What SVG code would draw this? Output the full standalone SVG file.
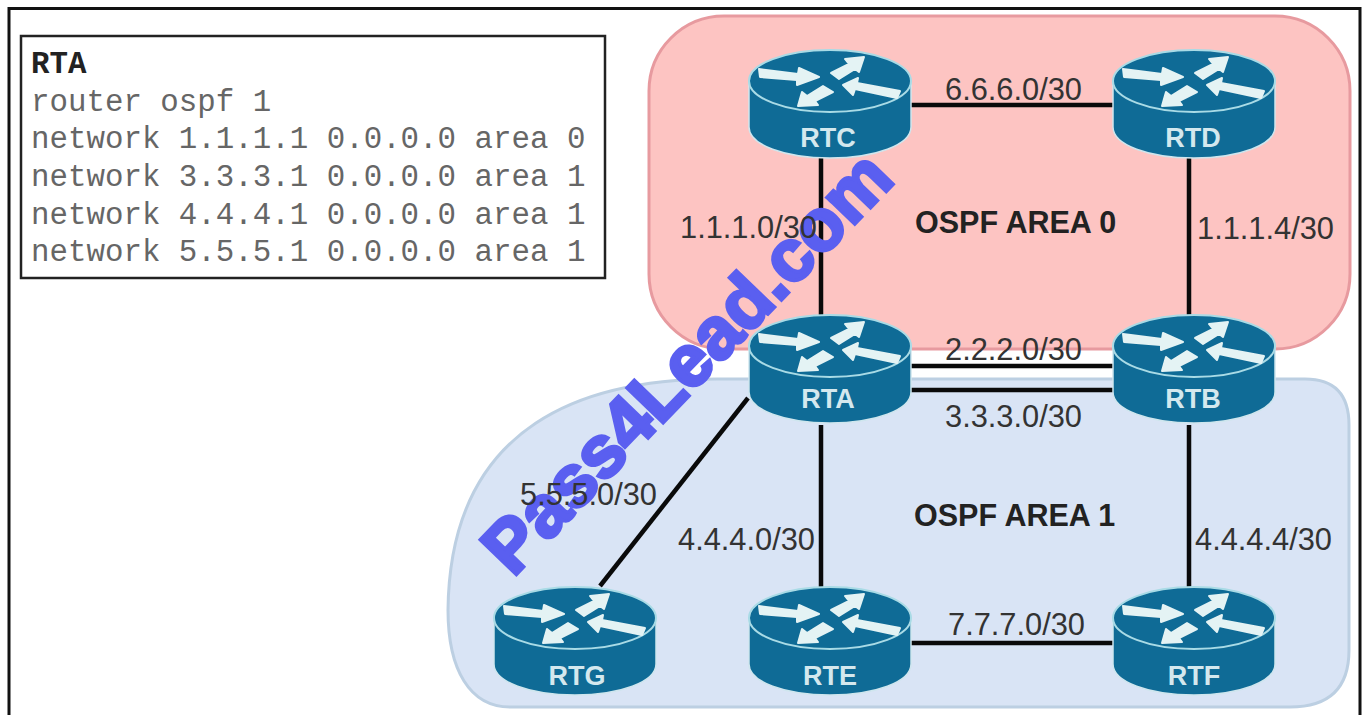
<svg xmlns="http://www.w3.org/2000/svg" width="1365" height="715" viewBox="0 0 1365 715">
<style>
.lbl{font-family:"Liberation Sans",Arial,sans-serif;font-size:30.8px;fill:#333}
.area{font-family:"Liberation Sans",Arial,sans-serif;font-size:30.5px;font-weight:bold;fill:#222}
.rname{font-family:"Liberation Sans",Arial,sans-serif;font-size:27px;font-weight:bold;fill:#d4e8ee;text-anchor:middle}
.mono{font-family:"Liberation Mono","Courier New",monospace;font-size:30.8px;fill:#666}
.link{stroke:#0a0a0a;stroke-width:4.5;fill:none}
</style>
<defs>
<g id="router">
<path d="M-81 0V46C-81 64-45 77 0 77S81 64 81 46V0Z" fill="#0f6b96" stroke="#cfe6ee" stroke-width="1.5"/>
<ellipse cx="0" cy="0" rx="81" ry="31" fill="#0f6b96" stroke="#a9dbe6" stroke-width="2"/>
<g fill="#e4f3f4" stroke="#e4f3f4" stroke-width="2" stroke-linejoin="round">
<path d="M-71-12L-32-7-31-13-11-4-33 4-33-1-70-4Z"/>
<path d="M1-8L19-17 15-22 34-24 29-9 25-12 9-2Z"/>
<path d="M13 4L28-3 27 2 70 10 67 17 25 8 23 14Z"/>
<path d="M-32 25L-28 11-23 15-7 5 3 11-15 20-12 24Z"/>
</g>
</g>
</defs>
<rect width="1365" height="715" fill="#fff"/>
<path d="M9 715V8.500H1360V715" fill="none" stroke="#111" stroke-width="3"/>
<g id="areas">
<rect x="649" y="16" width="701" height="333" rx="75" ry="75" fill="#fdc4c2" stroke="#e79a9f" stroke-width="3"/>
<path d="M717 379H1305Q1349 379 1349 425V650Q1349 707 1290 707H510C470 707 448 670 448 610C450 420 590 379 717 379Z" fill="#d9e4f5" stroke="#bccfe2" stroke-width="3"/>
</g>
<g id="connectors">
<line class="link" x1="911" y1="105" x2="1113" y2="105"/>
<line class="link" x1="821" y1="158" x2="821" y2="316"/>
<line class="link" x1="1189" y1="158" x2="1189" y2="320"/>
<line class="link" x1="911" y1="366" x2="1113" y2="366"/>
<line class="link" x1="911" y1="390" x2="1113" y2="390"/>
<line class="link" x1="748" y1="398" x2="600" y2="586"/>
<line class="link" x1="821" y1="425" x2="821" y2="587"/>
<line class="link" x1="1189" y1="425" x2="1189" y2="587"/>
<line class="link" x1="911" y1="643" x2="1113" y2="643"/>
</g>
<text id="watermark" transform="translate(513 578) rotate(-46)" font-family="'Liberation Sans',Arial,sans-serif" font-size="73" font-weight="bold" fill="#5a5ff0" stroke="#5a5ff0" stroke-width="3.500">Pass4Lead.com</text>
<g id="config">
<rect x="21" y="36" width="584" height="242" fill="#fff" stroke="#222" stroke-width="2.5"/>
<text class="mono" x="31" y="73" font-weight="bold" style="fill:#222">RTA</text>
<text class="mono" x="31" y="111">router ospf 1</text>
<text class="mono" x="31" y="148">network 1.1.1.1 0.0.0.0 area 0</text>
<text class="mono" x="31" y="186">network 3.3.3.1 0.0.0.0 area 1</text>
<text class="mono" x="31" y="224">network 4.4.4.1 0.0.0.0 area 1</text>
<text class="mono" x="31" y="261">network 5.5.5.1 0.0.0.0 area 1</text>
</g>
<g id="RTC"><use href="#router" x="830" y="81"/><text class="rname" x="828" y="147">RTC</text></g>
<g id="RTD"><use href="#router" x="1194" y="81"/><text class="rname" x="1193" y="147">RTD</text></g>
<g id="RTA"><use href="#router" x="830" y="346"/><text class="rname" x="828" y="408">RTA</text></g>
<g id="RTB"><use href="#router" x="1194" y="346"/><text class="rname" x="1193" y="408">RTB</text></g>
<g id="RTG"><use href="#router" x="575" y="618"/><text class="rname" x="577" y="685">RTG</text></g>
<g id="RTE"><use href="#router" x="830" y="618"/><text class="rname" x="830" y="685">RTE</text></g>
<g id="RTF"><use href="#router" x="1194" y="618"/><text class="rname" x="1194" y="685">RTF</text></g>
<g id="labels">
<text class="lbl" x="945" y="100">6.6.6.0/30</text>
<text class="lbl" x="680" y="238">1.1.1.0/30</text>
<text class="lbl" x="1197" y="239">1.1.1.4/30</text>
<text class="lbl" x="945" y="360">2.2.2.0/30</text>
<text class="lbl" x="945" y="427">3.3.3.0/30</text>
<text class="lbl" x="520" y="505">5.5.5.0/30</text>
<text class="lbl" x="678" y="550">4.4.4.0/30</text>
<text class="lbl" x="1195" y="550">4.4.4.4/30</text>
<text class="lbl" x="948" y="635">7.7.7.0/30</text>
<text class="area" x="915" y="233">OSPF AREA 0</text>
<text class="area" x="914" y="526">OSPF AREA 1</text>
</g>
</svg>
